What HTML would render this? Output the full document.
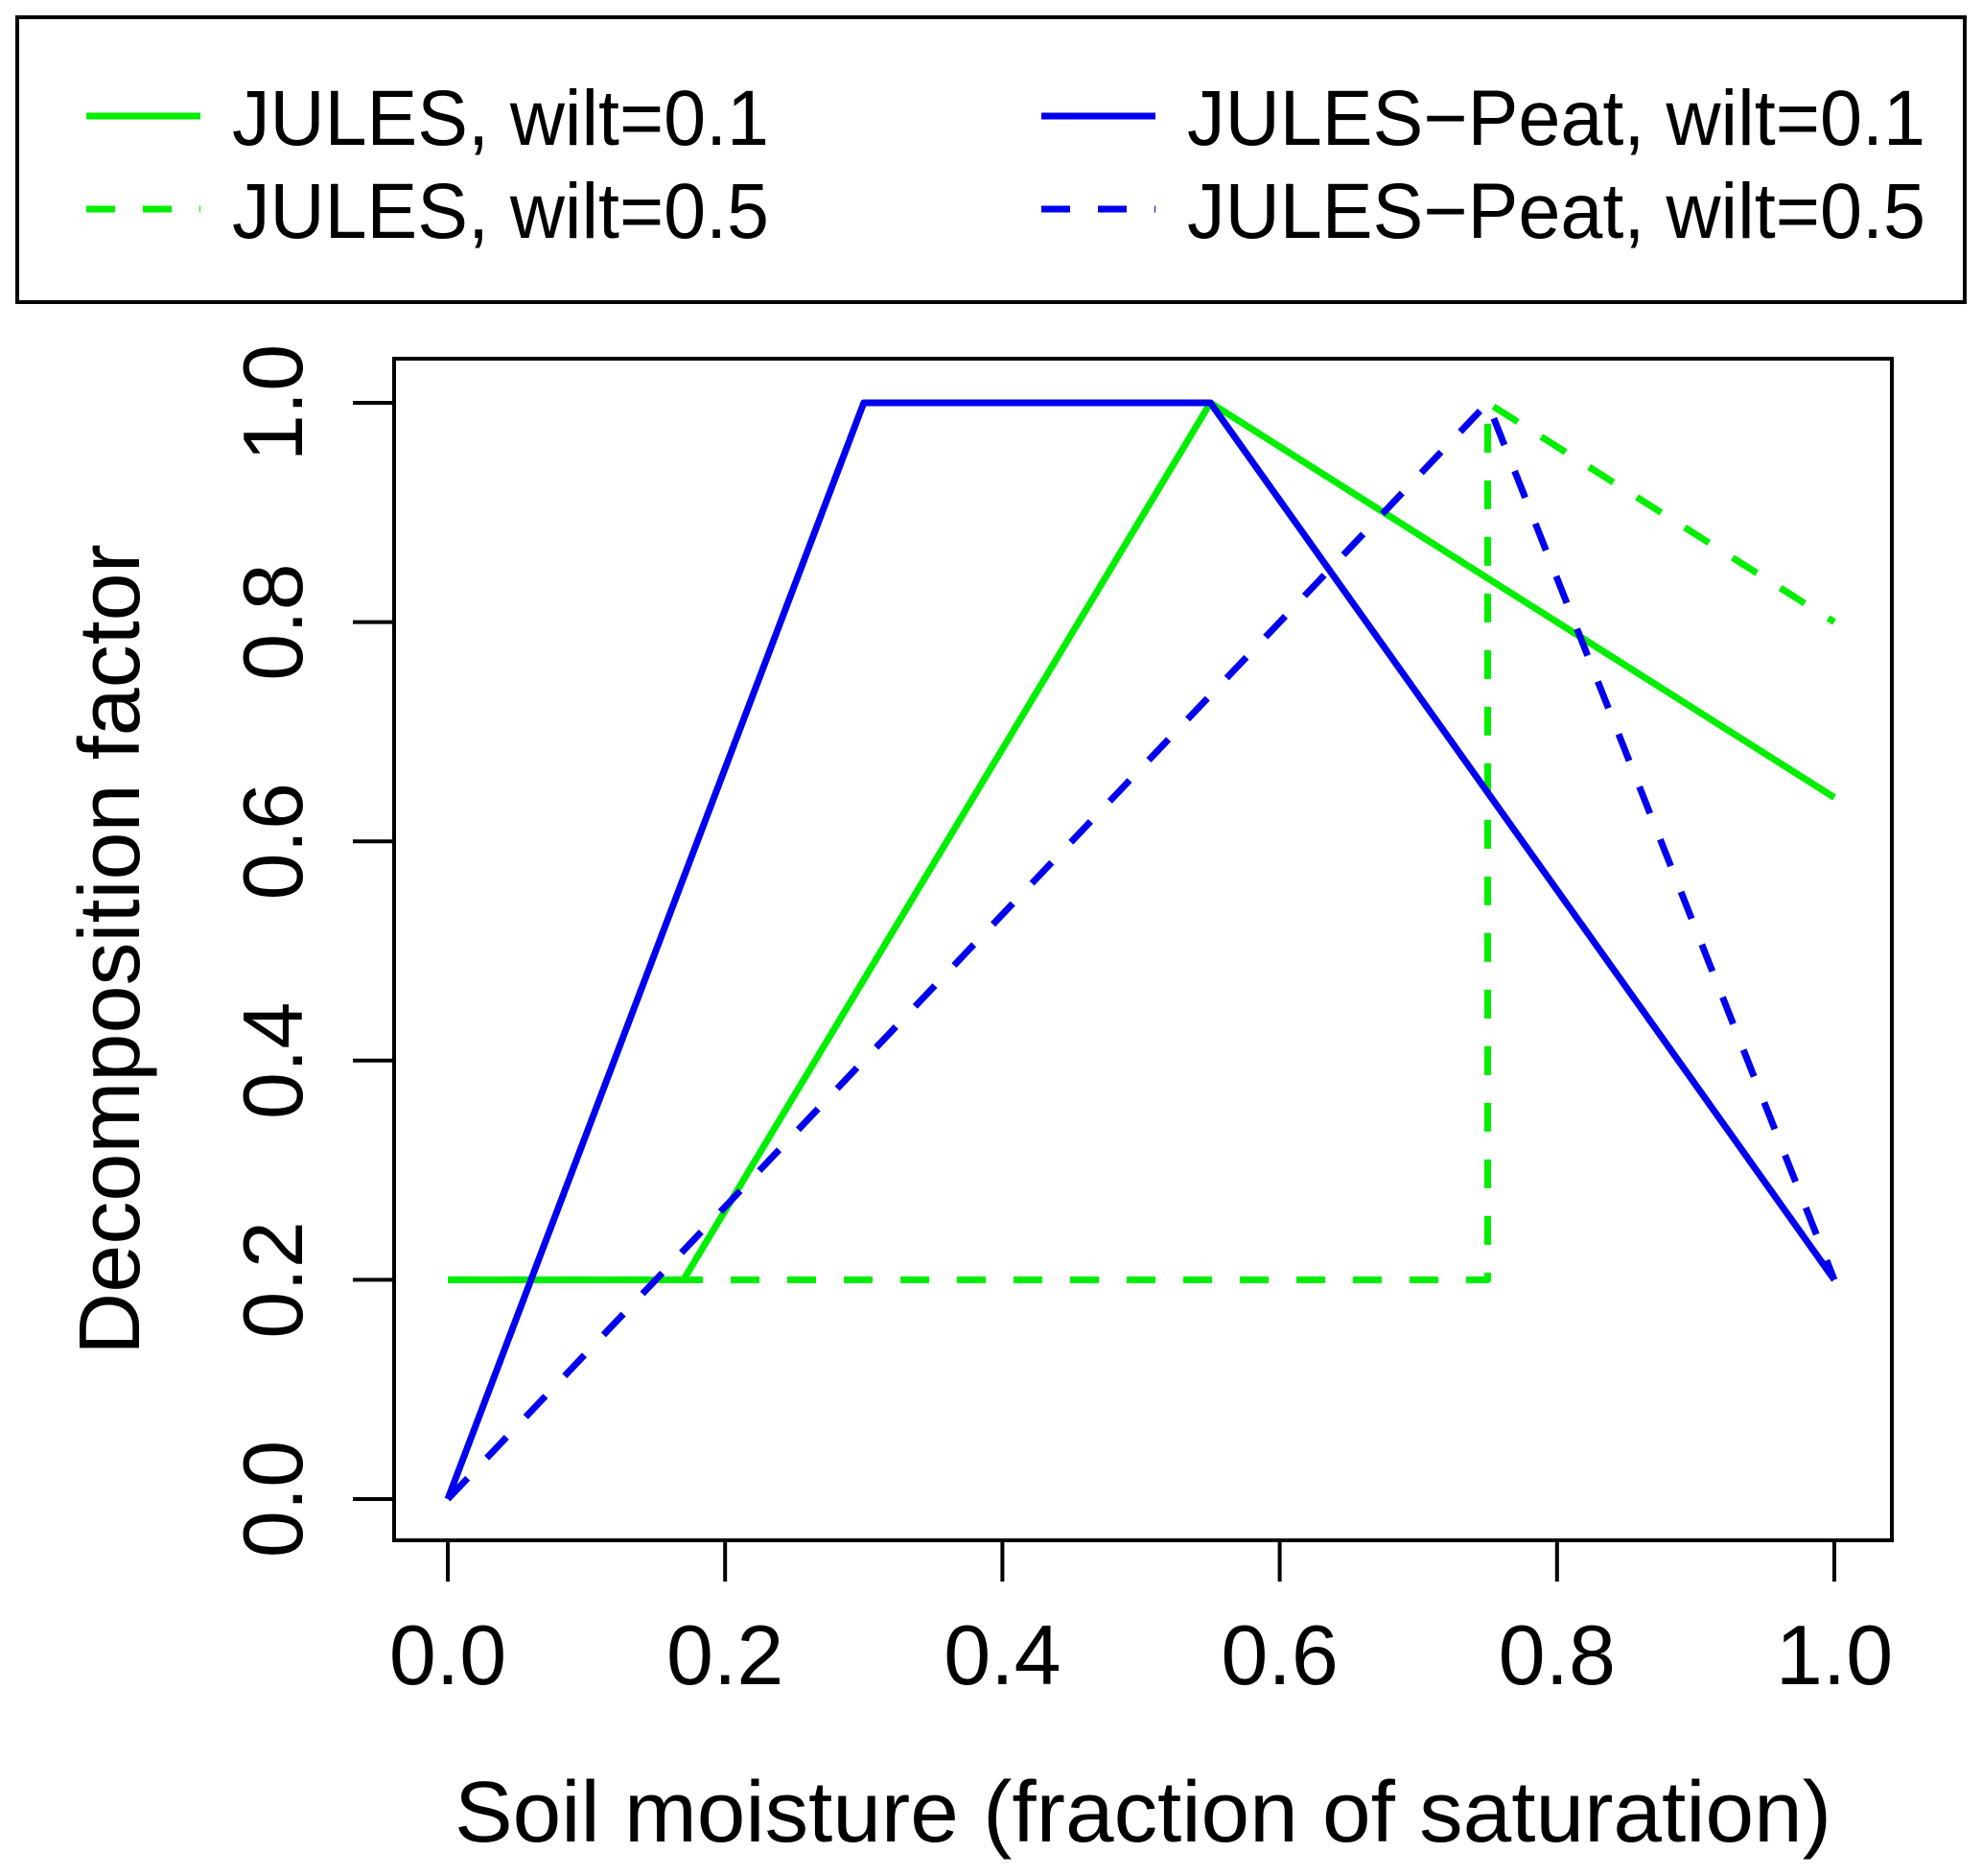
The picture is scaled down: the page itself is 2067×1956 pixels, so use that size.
<!DOCTYPE html>
<html><head><meta charset="utf-8"><style>html,body{margin:0;padding:0;background:#fff}svg{display:block}text{font-family:"Liberation Sans",sans-serif;fill:#000}</style></head>
<body>
<svg id="chart" width="2067" height="1956" viewBox="0 0 2067 1956" xmlns="http://www.w3.org/2000/svg">
<rect x="18" y="18" width="2031" height="297" fill="none" stroke="#000" stroke-width="4"/>
<g id="legend"></g>
<rect x="411" y="374" width="1562" height="1232" fill="none" stroke="#000" stroke-width="4"/>
<g id="axes"></g>
<g id="series"></g>
<text x="1192" y="1920" font-size="90" text-anchor="middle" textLength="1436" lengthAdjust="spacingAndGlyphs">Soil moisture (fraction of saturation)</text>
<text transform="translate(145,990) rotate(-90)" font-size="90" text-anchor="middle">Decomposition factor</text>
</svg>
<script>
const xTicks = [0, 0.2, 0.4, 0.6, 0.8, 1.0];
const yTicks = [0, 0.2, 0.4, 0.6, 0.8, 1.0];
const julesWilt01X = [0, 0.17, 0.55, 1];
const julesWilt01Y = [0.2, 0.2, 1, 0.64];
const julesWilt05X = [0, 0.75, 0.75, 1];
const julesWilt05Y = [0.2, 0.2, 1, 0.8];
const peatWilt01X = [0, 0.3, 0.55, 1];
const peatWilt01Y = [0, 1, 1, 0.2];
const peatWilt05X = [0, 0.75, 1];
const peatWilt05Y = [0, 1, 0.2];
const seriesNames = ["JULES, wilt=0.1", "JULES, wilt=0.5", "JULES\u2212Peat, wilt=0.1", "JULES\u2212Peat, wilt=0.5"];

const NS = "http://www.w3.org/2000/svg";
const sx = v => 467 + v * (1913 - 467);
const sy = v => 1563 - v * (1563 - 420);
function mk(tag, attrs, parent) {
  const e = document.createElementNS(NS, tag);
  for (const k in attrs) e.setAttribute(k, attrs[k]);
  parent.appendChild(e);
  return e;
}
const axes = document.getElementById('axes');
mk('line', {x1: sx(0), x2: sx(1), y1: 1606, y2: 1606, stroke: '#000', 'stroke-width': 4}, axes);
mk('line', {x1: 411, x2: 411, y1: sy(0), y2: sy(1), stroke: '#000', 'stroke-width': 4}, axes);
xTicks.forEach(t => {
  const l = mk('line', {x1: sx(t), x2: sx(t), y1: 1606, y2: 1649, stroke: '#000', 'stroke-width': 4}, axes);
  
  
  const tx = mk('text', {x: sx(t), y: 1756, 'font-size': 88, 'text-anchor': 'middle'}, axes);
  tx.textContent = t.toFixed(1);
  
  
});
yTicks.forEach(t => {
  const l = mk('line', {x1: 368, x2: 411, y1: sy(t), y2: sy(t), stroke: '#000', 'stroke-width': 4}, axes);
  
  
  const tx = mk('text', {transform: `translate(315,${sy(t)}) rotate(-90)`, 'font-size': 88, 'text-anchor': 'middle'}, axes);
  tx.textContent = t.toFixed(1);
  
  
});
const GREEN = '#00ee00', BLUE = '#0000ee';
const series = [
  [julesWilt01X, julesWilt01Y, GREEN, false, 'line-jules-wilt-0-1'],
  [julesWilt05X, julesWilt05Y, GREEN, true, 'line-jules-wilt-0-5'],
  [peatWilt01X, peatWilt01Y, BLUE, false, 'line-peat-wilt-0-1'],
  [peatWilt05X, peatWilt05Y, BLUE, true, 'line-peat-wilt-0-5']
];
const sg = document.getElementById('series');
series.forEach(s => {
  const pts = s[0].map((x, i) => sx(x) + ',' + sy(s[1][i])).join(' ');
  const p = mk('polyline', {points: pts, fill: 'none', stroke: s[2], 'stroke-width': 7, 'stroke-linejoin': 'round', 'stroke-dasharray': s[3] ? '30,29' : 'none'}, sg);
  
  
});
const lg = document.getElementById('legend');
const lpos = [[90, 121], [90, 218], [1086, 121], [1086, 218]];
const lens = [560, 560, 770, 770];
series.forEach((s, i) => {
  const [lx, ly] = lpos[i];
  const l = mk('line', {x1: lx, x2: lx + 119, y1: ly, y2: ly, stroke: s[2], 'stroke-width': 7, 'stroke-dasharray': s[3] ? '30,29' : 'none'}, lg);
  
  
  const t = mk('text', {x: lx + 152, y: ly + 30, 'font-size': 82, textLength: lens[i], lengthAdjust: 'spacingAndGlyphs'}, lg);
  t.textContent = seriesNames[i];
  
  
});
</script>
</body></html>
